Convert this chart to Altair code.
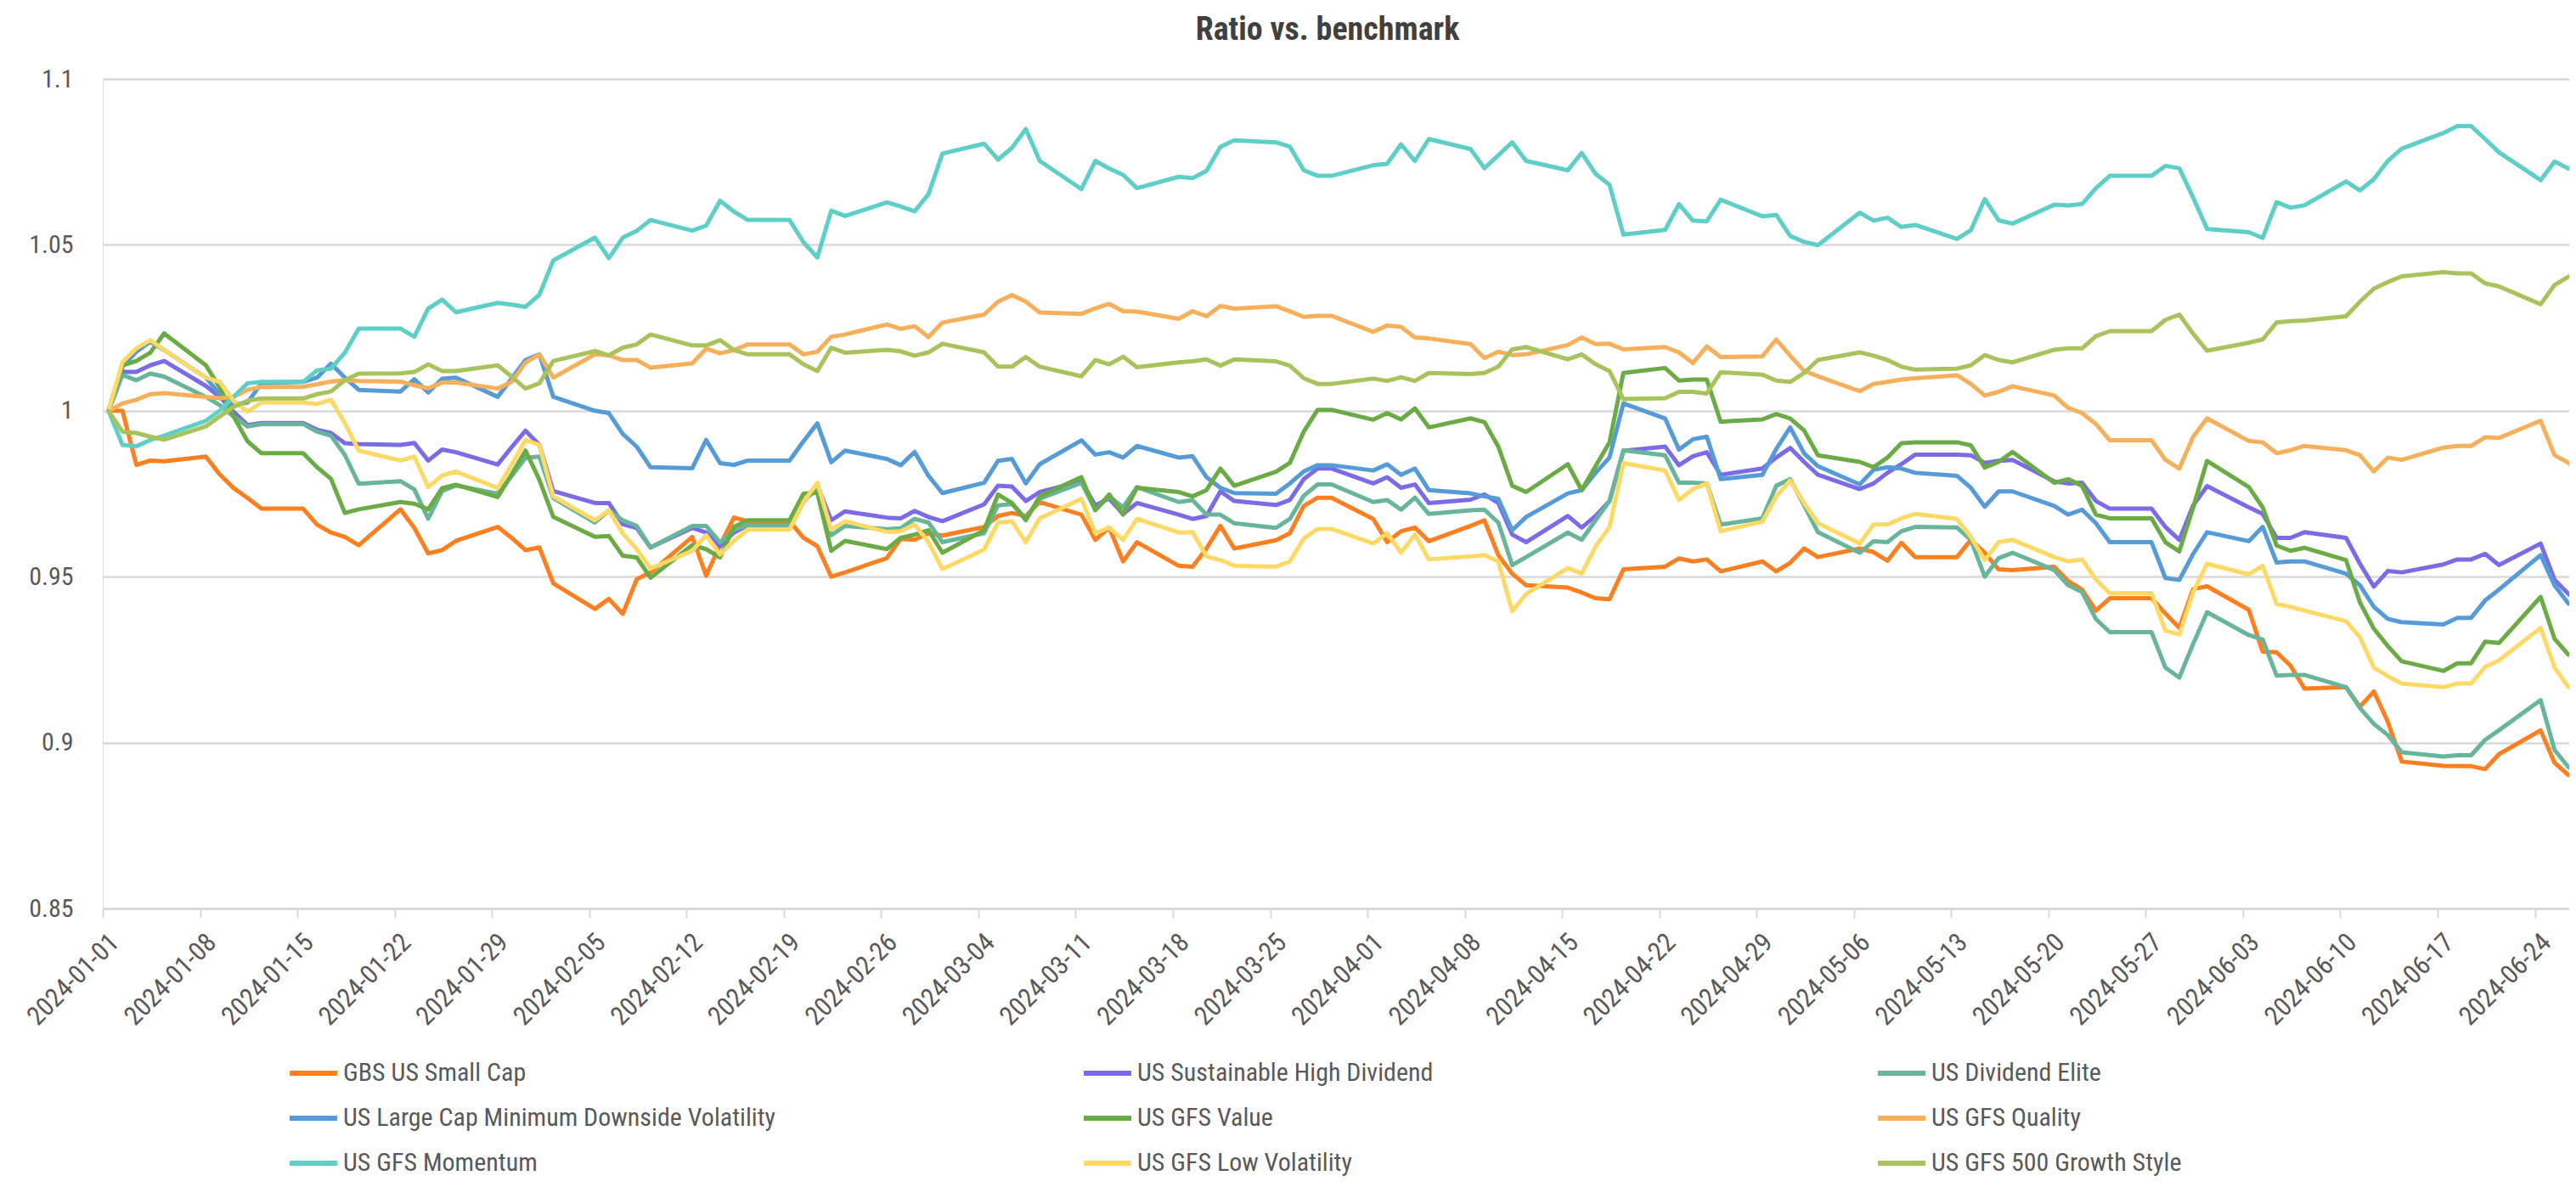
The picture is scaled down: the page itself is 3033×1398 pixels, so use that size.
import altair as alt
import pandas as pd

# ---------------- data ----------------
SERIES = [
    "GBS US Small Cap",
    "US Sustainable High Dividend",
    "US Dividend Elite",
    "US Large Cap Minimum Downside Volatility",
    "US GFS Value",
    "US GFS Quality",
    "US GFS Momentum",
    "US GFS Low Volatility",
    "US GFS 500 Growth Style",
]
COLORS = ["#fd7f20", "#7b6be6", "#68b59b", "#559bd8", "#6aab45",
          "#f6b05c", "#5dcfc7", "#ffd966", "#a8c25c"]

# trading days (weekdays) from 2024-01-01 to 2024-06-27
DATES = [d.strftime("%Y-%m-%d") for d in pd.bdate_range("2024-01-01", "2024-06-27")]

small_cap = [
    1.0, 1.0, 0.9837, 0.985, 0.9848,
    0.9862, 0.9808, 0.9767, 0.9737, 0.9705,
    0.9705, 0.9657, 0.9633, 0.962, 0.9595,
    0.9703, 0.9647, 0.957, 0.958, 0.9608,
    0.965, 0.9617, 0.958, 0.9588, 0.948,
    0.9403, 0.9433, 0.9388, 0.9492, 0.9513,
    0.962, 0.9503, 0.9595, 0.9678, 0.9667,
    0.9667, 0.9617, 0.9592, 0.95, 0.9513,
    0.9556, 0.9614, 0.9611, 0.9631, 0.9624,
    0.965, 0.9683, 0.9692, 0.9683, 0.9725,
    0.9687, 0.9611, 0.9648, 0.9546, 0.9604,
    0.9533, 0.953, 0.9585, 0.9653, 0.9585,
    0.961, 0.9631, 0.9713, 0.9738, 0.9738,
    0.9674, 0.9604, 0.9637, 0.9648, 0.9607,
    0.9653, 0.967, 0.9565, 0.9509, 0.9474,
    0.9467, 0.9452, 0.9435, 0.9432, 0.9522,
    0.953, 0.9555, 0.9546, 0.9552, 0.9516,
    0.9546, 0.9516, 0.9542, 0.9585, 0.9559,
    0.9585, 0.9574, 0.9548, 0.9602, 0.9559,
    0.9559, 0.9611, 0.9572, 0.9522, 0.952,
    0.953, 0.9487, 0.9461, 0.9398, 0.9435,
    0.9435, 0.9389, 0.9346, 0.9463, 0.9471,
    0.94, 0.9274, 0.9272, 0.9232, 0.9163,
    0.9167, 0.9108, 0.9154, 0.9063, 0.8943,
    0.893, 0.8929, 0.8929, 0.892, 0.8965,
    0.9037, 0.8939, 0.8902, 0.891,
]
high_dividend = [
    1.0, 1.0117, 1.0117, 1.0137, 1.015,
    1.0075, 1.0042, 0.9997, 0.9957, 0.9963,
    0.9963, 0.9943, 0.9933, 0.9902, 0.99,
    0.9897, 0.9903, 0.985, 0.9883, 0.9875,
    0.9838, 0.989, 0.994, 0.9897, 0.9758,
    0.9722, 0.9722, 0.9658, 0.9647, 0.9588,
    0.9647, 0.9633, 0.9592, 0.9633, 0.9655,
    0.9655, 0.9725, 0.9775, 0.967, 0.9697,
    0.9678, 0.9676, 0.9698, 0.968, 0.9667,
    0.9718, 0.9774, 0.9772, 0.9728, 0.9755,
    0.9787, 0.9715, 0.9735, 0.9689, 0.9722,
    0.9687, 0.9674, 0.9683, 0.9757, 0.9728,
    0.9716, 0.9731, 0.9794, 0.9826, 0.9826,
    0.9781, 0.98, 0.9768, 0.9778, 0.9722,
    0.9732, 0.9748, 0.9722, 0.9627, 0.9604,
    0.9683, 0.9648, 0.9683, 0.9728, 0.9879,
    0.9892, 0.9836, 0.9863, 0.9875, 0.9807,
    0.9826, 0.9859, 0.9888, 0.9846, 0.9807,
    0.9764, 0.9781, 0.9813, 0.9839, 0.9868,
    0.9868, 0.9866, 0.9843, 0.9849, 0.9852,
    0.9787, 0.9781, 0.9783, 0.9728, 0.9705,
    0.9705, 0.965, 0.9611, 0.9715, 0.9773,
    0.9709, 0.9689, 0.9617, 0.9617, 0.9634,
    0.9617, 0.9539, 0.947, 0.9517, 0.9513,
    0.9537, 0.9552, 0.9552, 0.9569, 0.9535,
    0.96, 0.9491, 0.9448, 0.9422,
]
dividend_elite = [
    1.0, 1.0108, 1.0092, 1.0112, 1.0103,
    1.0042, 1.0017, 0.9983, 0.9953, 0.996,
    0.996, 0.9937, 0.9925, 0.9867, 0.978,
    0.9788, 0.9763, 0.9675, 0.9758, 0.9775,
    0.975, 0.9803, 0.9858, 0.9862, 0.9737,
    0.9663, 0.97, 0.967, 0.9653, 0.9588,
    0.9653, 0.9653, 0.9603, 0.9642, 0.9655,
    0.9655, 0.973, 0.9762, 0.9625, 0.9653,
    0.9643, 0.9646, 0.9674, 0.9663, 0.9604,
    0.9631, 0.9715, 0.9719, 0.9676, 0.9735,
    0.9783, 0.9702, 0.9742, 0.9709, 0.977,
    0.9725, 0.9731, 0.9687, 0.9687, 0.9661,
    0.9647, 0.9674, 0.9744, 0.9778, 0.9778,
    0.9725, 0.9731, 0.9702, 0.9738, 0.9689,
    0.97, 0.9702, 0.9663, 0.9535, 0.9559,
    0.9633, 0.9611, 0.967, 0.9728, 0.9881,
    0.9866, 0.9783, 0.9783, 0.9781, 0.9657,
    0.9676, 0.9774, 0.9794, 0.9715, 0.9634,
    0.9572, 0.9607, 0.9604, 0.9637, 0.965,
    0.9648, 0.9611, 0.95, 0.9556, 0.9572,
    0.952, 0.9474, 0.9454, 0.9372, 0.9333,
    0.9333, 0.9226, 0.9196, 0.9298, 0.9393,
    0.9324, 0.9311, 0.9202, 0.9204, 0.9204,
    0.9167, 0.9104, 0.9056, 0.9023, 0.8971,
    0.8958, 0.8962, 0.8962, 0.9008, 0.9037,
    0.9128, 0.8978, 0.8926, 0.89,
]
min_downside_vol = [
    1.0, 1.0133, 1.0178, 1.0208, 1.0183,
    1.01, 1.005, 1.0017, 1.0025, 1.0083,
    1.0087, 1.01, 1.0142, 1.01, 1.0063,
    1.0058, 1.0095, 1.0055, 1.0097, 1.01,
    1.0042, 1.0097, 1.0153, 1.017, 1.0042,
    1.0, 0.9993, 0.993, 0.9892, 0.983,
    0.9827, 0.9912, 0.9842, 0.9837, 0.985,
    0.985, 0.9908, 0.9962, 0.9845, 0.988,
    0.9855, 0.9836, 0.9876, 0.9804, 0.9752,
    0.9783, 0.9849, 0.9855, 0.9781, 0.9839,
    0.9911, 0.9868, 0.9875, 0.9859, 0.9894,
    0.9859, 0.9863, 0.98, 0.9768, 0.9752,
    0.975, 0.9781, 0.9817, 0.9836, 0.9836,
    0.982, 0.9839, 0.9807, 0.9826, 0.9761,
    0.9751, 0.9742, 0.9735, 0.964, 0.968,
    0.9751, 0.9761, 0.9813, 0.9859, 1.0022,
    0.9977, 0.9883, 0.9914, 0.9922, 0.9794,
    0.9807, 0.9885, 0.995, 0.9872, 0.9833,
    0.9778, 0.9822, 0.983, 0.9826, 0.9813,
    0.9804, 0.9768, 0.9711, 0.9757, 0.9757,
    0.9713, 0.9687, 0.9702, 0.9661, 0.9604,
    0.9604, 0.9496, 0.949, 0.9569, 0.9634,
    0.9607, 0.965, 0.9543, 0.9546, 0.9546,
    0.9509, 0.9474, 0.9409, 0.9373, 0.9363,
    0.9356, 0.9376, 0.9376, 0.9428, 0.9461,
    0.9565, 0.9474, 0.9419, 0.9418,
]
gfs_value = [
    1.0, 1.0137, 1.015, 1.0175, 1.0233,
    1.0137, 1.007, 0.9983, 0.9908, 0.9872,
    0.9872, 0.983, 0.9795, 0.9692, 0.9703,
    0.9725, 0.972, 0.9703, 0.9767, 0.9777,
    0.974, 0.9808, 0.988, 0.9792, 0.968,
    0.962, 0.9623, 0.9563, 0.9558, 0.9497,
    0.9595, 0.9583, 0.9558, 0.965, 0.967,
    0.967, 0.975, 0.9753, 0.9578, 0.9608,
    0.9583, 0.9617, 0.9627, 0.964, 0.9572,
    0.964, 0.9748, 0.9722, 0.967, 0.9742,
    0.98, 0.97, 0.9748, 0.9687, 0.9768,
    0.9755, 0.9742, 0.9761, 0.9826, 0.9774,
    0.9816, 0.9843, 0.9937, 1.0003, 1.0003,
    0.9973, 0.9993, 0.9974, 1.0007, 0.995,
    0.9977, 0.9966, 0.9892, 0.9774, 0.9755,
    0.9839, 0.9761, 0.9833, 0.9905, 1.0114,
    1.0129, 1.0091, 1.0094, 1.0094, 0.9967,
    0.9974, 0.999, 0.9977, 0.9941, 0.9866,
    0.9846, 0.983, 0.9859, 0.9902, 0.9905,
    0.9905, 0.9896, 0.9829, 0.9846, 0.9876,
    0.9783, 0.9794, 0.9774, 0.9687, 0.9676,
    0.9676, 0.9604, 0.9576, 0.9709, 0.9849,
    0.977, 0.9709, 0.9594, 0.9578, 0.9587,
    0.955, 0.9422, 0.9343, 0.9291, 0.9245,
    0.9216, 0.9239, 0.9239, 0.9304, 0.93,
    0.9439, 0.9313, 0.9265, 0.9261,
]
gfs_quality = [
    1.0, 1.0022, 1.0033, 1.005, 1.0053,
    1.0042, 1.0038, 1.0042, 1.0063, 1.0072,
    1.0072, 1.008, 1.0088, 1.0092, 1.009,
    1.0088, 1.0077, 1.0068, 1.0085, 1.0085,
    1.0067, 1.0087, 1.0145, 1.017, 1.01,
    1.017, 1.0167, 1.0153, 1.0153, 1.013,
    1.0143, 1.0187, 1.0173, 1.0183, 1.02,
    1.02, 1.017, 1.0178, 1.0223, 1.023,
    1.026, 1.0247, 1.0255, 1.0222, 1.0266,
    1.029, 1.0329, 1.0349, 1.0329, 1.0296,
    1.0292, 1.0309, 1.0322, 1.03, 1.0299,
    1.0277, 1.03, 1.0285, 1.0316, 1.0308,
    1.0315, 1.03, 1.0283, 1.0286, 1.0286,
    1.0238, 1.0257, 1.0253, 1.0221, 1.0218,
    1.0201, 1.0159, 1.0178, 1.0168, 1.017,
    1.0198, 1.0221, 1.0201, 1.0202, 1.0185,
    1.0192, 1.0176, 1.0144, 1.0194, 1.0162,
    1.0164, 1.0215, 1.0166, 1.012, 1.0104,
    1.0059, 1.0081, 1.0087, 1.0094, 1.0098,
    1.0107, 1.0081, 1.0046, 1.0057, 1.0074,
    1.0046, 1.0009, 0.9993, 0.996, 0.9911,
    0.9911, 0.9852, 0.9826, 0.9922, 0.9977,
    0.9909, 0.9905, 0.9872, 0.9881, 0.9894,
    0.9881, 0.9866, 0.9817, 0.9859, 0.9852,
    0.9889, 0.9894, 0.9894, 0.992, 0.9918,
    0.997, 0.9866, 0.9843, 0.981,
]
gfs_momentum = [
    1.0, 0.9897, 0.9893, 0.9912, 0.9925,
    0.997, 1.0, 1.0042, 1.0083, 1.0087,
    1.0087, 1.0122, 1.0127, 1.0175, 1.0248,
    1.0248, 1.0223, 1.0308, 1.0335, 1.0297,
    1.0325, 1.032, 1.0313, 1.035, 1.0453,
    1.0522, 1.046, 1.0522, 1.0542, 1.0575,
    1.0543, 1.0558, 1.0633, 1.06, 1.0575,
    1.0575, 1.0508, 1.0462, 1.0603, 1.0587,
    1.0628, 1.0616, 1.0601, 1.0653, 1.0775,
    1.0805, 1.0757, 1.0792, 1.0849, 1.0753,
    1.0668, 1.0753, 1.073, 1.0711, 1.0671,
    1.0705, 1.0701, 1.0723, 1.0795, 1.0815,
    1.0809, 1.0796, 1.0725, 1.0708, 1.0708,
    1.074, 1.0744, 1.0803, 1.0753, 1.0819,
    1.0789, 1.0731, 1.077, 1.0809, 1.0753,
    1.0725, 1.0777, 1.0714, 1.0681, 1.0531,
    1.0545, 1.0623, 1.0573, 1.0571, 1.0636,
    1.0586, 1.059, 1.0527, 1.0509, 1.0499,
    1.0597, 1.0573, 1.0582, 1.0554, 1.056,
    1.0518, 1.0544, 1.0638, 1.0574, 1.0564,
    1.0621, 1.0619, 1.0623, 1.0671, 1.0708,
    1.0708, 1.0738, 1.0731, 1.0642, 1.0548,
    1.0538, 1.0521, 1.0629, 1.0612, 1.0619,
    1.0691, 1.0664, 1.0698, 1.0753, 1.079,
    1.0837, 1.0858, 1.0858, 1.0819, 1.0779,
    1.0695, 1.0751, 1.073, 1.0762,
]
gfs_low_vol = [
    1.0, 1.0147, 1.0188, 1.0213, 1.0183,
    1.01, 1.0087, 1.003, 0.9997, 1.0025,
    1.0025, 1.002, 1.0033, 0.9963, 0.988,
    0.985, 0.9862, 0.977, 0.9805, 0.9817,
    0.9767, 0.9837, 0.9912, 0.9897, 0.9742,
    0.967, 0.97, 0.963, 0.9583, 0.9525,
    0.9578, 0.9625, 0.9567, 0.9608, 0.9642,
    0.9642, 0.9725, 0.9783, 0.9642, 0.9667,
    0.9635, 0.9637, 0.9657, 0.9604, 0.9523,
    0.9582, 0.9663, 0.9667, 0.9604, 0.9676,
    0.9735, 0.9631, 0.9648, 0.9611, 0.9674,
    0.9633, 0.9634, 0.9561, 0.955, 0.9533,
    0.953, 0.9546, 0.9615, 0.9644, 0.9644,
    0.96, 0.9631, 0.9572, 0.9627, 0.9552,
    0.9561, 0.9565, 0.9546, 0.9396, 0.9448,
    0.9526, 0.9509, 0.9591, 0.965, 0.9842,
    0.982, 0.9731, 0.9764, 0.9781, 0.9637,
    0.9666, 0.9742, 0.979, 0.9722, 0.9661,
    0.96, 0.9657, 0.9657, 0.9676, 0.9689,
    0.9674, 0.962, 0.955, 0.9604, 0.9611,
    0.9559, 0.9546, 0.9552, 0.9491, 0.945,
    0.945, 0.9337, 0.9326, 0.9454, 0.9539,
    0.9507, 0.9533, 0.9418, 0.9409, 0.9398,
    0.9366, 0.9317, 0.9226, 0.92, 0.9178,
    0.9167, 0.9178, 0.9178, 0.9228, 0.9248,
    0.9346, 0.9226, 0.9167, 0.9154,
]
growth_500 = [
    1.0, 0.9937, 0.9933, 0.9922, 0.9913,
    0.9953, 0.9983, 1.0012, 1.003, 1.0037,
    1.0037, 1.005, 1.0058, 1.0092, 1.0112,
    1.0113, 1.0117, 1.014, 1.012, 1.012,
    1.0137, 1.0103, 1.0067, 1.0083, 1.015,
    1.018, 1.0167, 1.019, 1.02, 1.023,
    1.0197, 1.0197, 1.0213, 1.0183, 1.017,
    1.017, 1.014, 1.012, 1.019, 1.0175,
    1.0184, 1.0179, 1.0166, 1.0176, 1.0202,
    1.0176, 1.0133, 1.0133, 1.0162, 1.0133,
    1.0104, 1.0153, 1.014, 1.0163, 1.0131,
    1.0146, 1.0149, 1.0155, 1.0136, 1.0155,
    1.0149, 1.0136, 1.0098, 1.0081, 1.0081,
    1.0097, 1.009, 1.0101, 1.009, 1.0114,
    1.0111, 1.0114, 1.0133, 1.0185, 1.0192,
    1.0155, 1.017, 1.014, 1.012, 1.0035,
    1.0038, 1.0057, 1.0057, 1.0052, 1.0116,
    1.0109, 1.0091, 1.0087, 1.0114, 1.0153,
    1.0176, 1.0166, 1.0153, 1.0133, 1.0124,
    1.0127, 1.0137, 1.0168, 1.0153, 1.0146,
    1.0184, 1.0188, 1.0188, 1.0225, 1.024,
    1.024, 1.0274, 1.029, 1.0232, 1.0181,
    1.0205, 1.0215, 1.0266, 1.027, 1.0272,
    1.0285, 1.0329, 1.0368, 1.0388, 1.0405,
    1.0418, 1.0414, 1.0414, 1.0384, 1.0375,
    1.0321, 1.0379, 1.0404, 1.041,
]

VALUES = [small_cap, high_dividend, dividend_elite, min_downside_vol, gfs_value,
          gfs_quality, gfs_momentum, gfs_low_vol, growth_500]

Y_TICKS = [0.85, 0.9, 0.95, 1.0, 1.05, 1.1]
X_TICKS = [d.strftime("%Y-%m-%d") for d in pd.date_range("2024-01-01", "2024-06-24", freq="7D")]

# ---------------- build table ----------------
rows = []
for k, (name, vals) in enumerate(zip(SERIES, VALUES)):
    for d, v in zip(DATES, vals):
        rows.append({"date": d + "T10:00:00", "series": name, "value": v, "order": k})
df = pd.DataFrame(rows)


def dt(s, hours=0, minutes=0):
    t = pd.Timestamp(s)
    return alt.DateTime(year=t.year, month=t.month, date=t.day, hours=hours, minutes=minutes)


x_ticks = [dt(t) for t in X_TICKS]
x_domain = [dt("2024-01-01"), dt("2024-06-26", hours=11, minutes=20)]

FONT = "Roboto Condensed, DejaVu Sans Condensed, Roboto, sans-serif"
TEXT = "#595959"
GRID = "#d9d9d9"

chart = (
    alt.Chart(df)
    .mark_line(strokeWidth=5, strokeJoin="round", strokeCap="round", clip=True)
    .encode(
        x=alt.X(
            "date:T",
            scale=alt.Scale(domain=x_domain),
            axis=alt.Axis(
                values=x_ticks, format="%Y-%m-%d", title=None,
                grid=False, domain=True, domainColor=GRID, domainWidth=3,
                ticks=True, tickColor=GRID, tickSize=11, tickWidth=2,
                labelAngle=-45, labelAlign="right", labelBaseline="middle",
                labelOffset=14, labelPadding=24, labelFontSize=31,
                labelColor=TEXT, labelFont=FONT, labelOverlap=False,
                labelBound=False, labelFlush=False,
            ),
        ),
        y=alt.Y(
            "value:Q",
            scale=alt.Scale(domain=[0.85, 1.1], nice=False, zero=False),
            axis=alt.Axis(
                values=Y_TICKS, format="~g", title=None, domain=False, ticks=False,
                labelPadding=35, labelFontSize=30, labelColor=TEXT, labelFont=FONT,
                grid=True, gridColor=GRID, gridWidth=2.5,
            ),
        ),
        color=alt.Color(
            "series:N",
            scale=alt.Scale(domain=SERIES, range=COLORS),
            legend=alt.Legend(
                title=None, orient="none", legendX=217, legendY=1140,
                direction="horizontal", columns=3, gridAlign="all",
                columnPadding=350, rowPadding=7,
                symbolType="stroke", symbolSize=3136, symbolStrokeWidth=6,
                labelFontSize=30, labelColor=TEXT, labelFont=FONT,
                labelLimit=2000, labelOffset=4, padding=0,
            ),
        ),
        order=alt.Order("order:Q"),
        detail="series:N",
    )
    .properties(
        width=2904,
        height=977,
        title=alt.TitleParams(
            "Ratio vs. benchmark", fontSize=38, fontWeight="bold", color="#404040",
            font=FONT, anchor="middle", offset=23, dx=-10,
        ),
        autosize=alt.AutoSizeParams(type="none"),
        padding={"left": 113, "top": 85, "right": 0, "bottom": 320},
    )
    .configure_view(stroke=None)
    .configure(background="white")
)

chart.save("out.html", embed_options={"renderer": "svg", "actions": False})
